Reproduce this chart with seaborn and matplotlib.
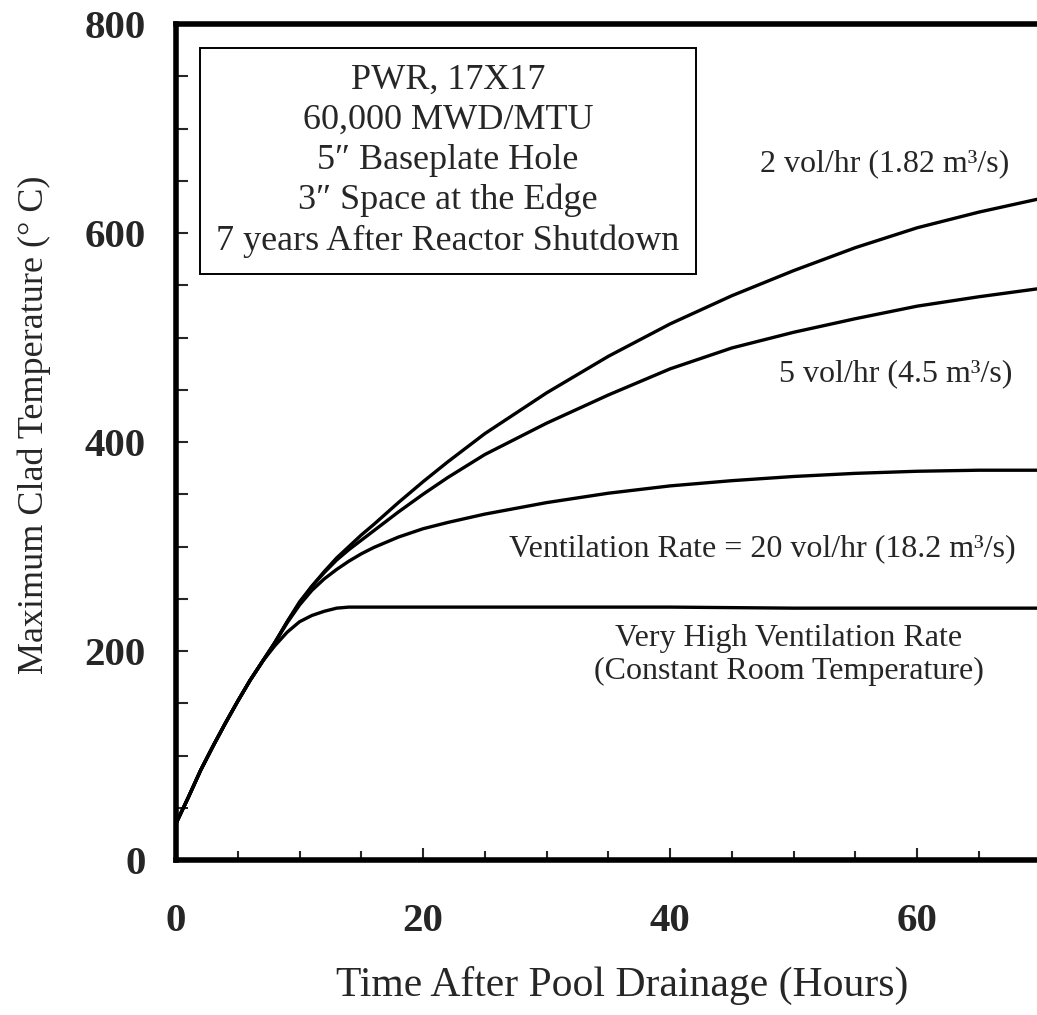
import numpy as np
import pandas as pd
import matplotlib
matplotlib.use("Agg")
import matplotlib.pyplot as plt
import seaborn as sns
from matplotlib.ticker import MultipleLocator

# ---------------- data ----------------
hours_2vol = [0, 1, 2, 3, 4, 5, 6, 7, 8, 9, 10, 11, 12, 13, 14, 15, 16, 18, 20, 22, 25,
              30, 35, 40, 45, 50, 55, 60, 65, 70]
temp_2vol = [35, 60, 86, 109, 131, 152, 172, 190, 208, 228, 247, 262, 276, 289, 300, 311,
             321, 342, 362, 381, 408, 447, 482, 513, 540, 564, 586, 605, 620, 633]

hours_5vol = [0, 1, 2, 3, 4, 5, 6, 7, 8, 9, 10, 11, 12, 13, 14, 15, 16, 18, 20, 22, 25,
              30, 35, 40, 45, 50, 55, 60, 65, 70]
temp_5vol = [35, 60, 86, 109, 131, 152, 172, 190, 208, 228, 246, 262, 275, 287, 297, 306,
             315, 333, 350, 366, 388, 418, 445, 470, 490, 505, 518, 530, 539, 547]

hours_20vol = [0, 1, 2, 3, 4, 5, 6, 7, 8, 9, 10, 11, 12, 13, 14, 15, 16, 18, 20, 22, 25,
               30, 35, 40, 45, 50, 55, 60, 65, 70]
temp_20vol = [35, 60, 86, 109, 131, 152, 172, 190, 208, 227, 244, 258, 269, 278, 286, 293,
              299, 309, 317, 323, 331, 342, 351, 358, 363, 367, 370, 372, 373, 373]

hours_const = [0, 1, 2, 3, 4, 5, 6, 7, 8, 9, 10, 11, 12, 13, 14, 20, 30, 40, 50, 60, 70]
temp_const = [35, 60, 86, 109, 131, 152, 172, 190, 205, 218, 228, 234, 238, 241, 242,
              242, 242, 242, 241, 241, 241]

series_names = ["2 vol/hr", "5 vol/hr", "20 vol/hr", "Very high"]

xticks = [0, 20, 40, 60]
yticks = [0, 200, 400, 600, 800]

box_lines = ["PWR, 17X17", "60,000 MWD/MTU", "5\u2033 Baseplate Hole",
             "3\u2033 Space at the Edge", "7 years After Reactor Shutdown"]
label_2vol = "2 vol/hr (1.82 m\u00b3/s)"
label_5vol = "5 vol/hr (4.5 m\u00b3/s)"
label_20vol = "Ventilation Rate = 20 vol/hr (18.2 m\u00b3/s)"
label_const = "Very High Ventilation Rate\n(Constant Room Temperature)"

# ---------------- frame ----------------
frames = []
for name, hx, ty in zip(series_names,
                        [hours_2vol, hours_5vol, hours_20vol, hours_const],
                        [temp_2vol, temp_5vol, temp_20vol, temp_const]):
    frames.append(pd.DataFrame({"hours": hx, "temp": ty, "series": name}))
df = pd.concat(frames, ignore_index=True)

sns.set_style("ticks")
plt.rcParams["font.family"] = ["Liberation Serif", "DejaVu Serif"]

fig = plt.figure(figsize=(10.37, 10.15), dpi=100)
ax = fig.add_axes([176 / 1037, 1 - 860 / 1015, (1037 - 176) / 1037, (860 - 24) / 1015])

sns.lineplot(data=df, x="hours", y="temp", hue="series", units="series",
             estimator=None, palette=["black"] * 4, legend=False,
             linewidth=2.4, ax=ax, sort=True)

ax.set_xlim(0, 69.7)
ax.set_ylim(0, 800)

for s in ["left", "top", "bottom"]:
    ax.spines[s].set_linewidth(4)
    ax.spines[s].set_color("black")
ax.spines["right"].set_visible(False)

ax.set_xticks(xticks)
ax.set_yticks(yticks)
ax.xaxis.set_minor_locator(MultipleLocator(5))
ax.yaxis.set_minor_locator(MultipleLocator(50))
ax.tick_params(axis="x", which="major", direction="in", length=8.5, width=1.5,
               pad=31, labelsize=29.5, top=False)
ax.tick_params(axis="x", which="minor", direction="in", length=6.5, width=1.5, top=False)
ax.tick_params(axis="y", which="both", direction="in", length=8.5, width=1.5,
               pad=22, labelsize=29.5, right=False)
for lab in ax.get_xticklabels() + ax.get_yticklabels():
    lab.set_fontweight("bold")

ax.set_xlabel("Time After Pool Drainage (Hours)", fontsize=30)
ax.xaxis.set_label_coords((622 - 176) / 861, (860 - 966) / 836)
ax.set_ylabel("Maximum Clad Temperature (\u00b0 C)", fontsize=26)
ax.yaxis.set_label_coords((51 - 176) / 861, (860 - 425) / 836)

ax.text(22.0, 669, "\n".join(box_lines), ha="center", va="center",
        multialignment="center", fontsize=26, linespacing=1.28,
        bbox=dict(boxstyle="square,pad=0.45", fc="white", ec="black", lw=1.4))

ax.text(57.4, 659, label_2vol, ha="center", va="baseline", fontsize=23)
ax.text(58.3, 458, label_5vol, ha="center", va="baseline", fontsize=23)
ax.text(47.5, 291, label_20vol, ha="center", va="baseline", fontsize=23)
ax.text(49.6, 173, label_const, ha="center", va="baseline", fontsize=23,
        multialignment="center", linespacing=1.2)

fig.savefig("out.png", dpi=100)
